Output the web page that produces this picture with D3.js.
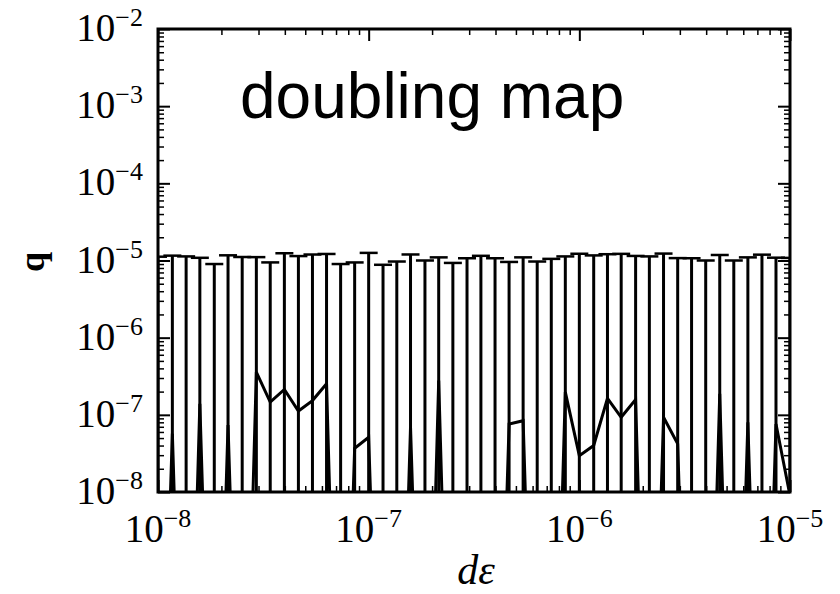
<!DOCTYPE html>
<html>
<head>
<meta charset="utf-8">
<script src="https://cdn.jsdelivr.net/npm/d3@7"></script>
<style>
  body { margin: 0; background: #fff; }
  svg { display: block; }
</style>
</head>
<body>
<div id="chart-container"></div>
<script>
// d-epsilon sample points (log spaced, 15 per decade)
const dEps = [
  1.00e-8, 1.17e-8, 1.36e-8, 1.58e-8, 1.85e-8, 2.15e-8, 2.51e-8, 2.93e-8, 3.41e-8, 3.98e-8,
  4.64e-8, 5.41e-8, 6.31e-8, 7.36e-8, 8.58e-8,
  1.00e-7, 1.17e-7, 1.36e-7, 1.58e-7, 1.85e-7, 2.15e-7, 2.51e-7, 2.93e-7, 3.41e-7, 3.98e-7,
  4.64e-7, 5.41e-7, 6.31e-7, 7.36e-7, 8.58e-7,
  1.00e-6, 1.17e-6, 1.36e-6, 1.58e-6, 1.85e-6, 2.15e-6, 2.51e-6, 2.93e-6, 3.41e-6, 3.98e-6,
  4.64e-6, 5.41e-6, 6.31e-6, 7.36e-6, 8.58e-6,
  1.00e-5
];

// mean q (zero where the estimate is not positive)
const qMean = [
  0, 5.7e-8, 0, 1.39e-7, 0, 7.4e-8, 0, 3.58e-7, 1.46e-7, 2.13e-7,
  1.12e-7, 1.53e-7, 2.53e-7, 0, 3.69e-8, 5.13e-8, 0, 0, 6.9e-8, 0,
  2.79e-7, 0, 0, 0, 0, 7.6e-8, 8.4e-8, 0, 0, 1.97e-7,
  2.96e-8, 4.0e-8, 1.64e-7, 9.3e-8, 1.58e-7, 0, 9.3e-8, 4.2e-8, 0, 0,
  1.87e-7, 0, 8.0e-8, 0, 7.6e-8, 9e-9
];

// spread of q (error bar half-length)
const qStd = [
  1.12e-5, 1.15e-5, 1.13e-5, 1.07e-5, 0.90e-5, 1.16e-5, 1.11e-5, 1.07e-5, 0.93e-5, 1.22e-5,
  1.13e-5, 1.18e-5, 1.19e-5, 0.90e-5, 0.94e-5, 1.25e-5, 0.88e-5, 0.97e-5, 1.19e-5, 1.00e-5,
  1.07e-5, 0.93e-5, 1.07e-5, 1.15e-5, 1.07e-5, 0.95e-5, 1.09e-5, 0.97e-5, 1.05e-5, 1.11e-5,
  1.22e-5, 1.16e-5, 1.19e-5, 1.21e-5, 1.13e-5, 1.13e-5, 1.22e-5, 1.07e-5, 1.07e-5, 1.00e-5,
  1.16e-5, 1.00e-5, 1.09e-5, 1.19e-5, 1.08e-5, 1.08e-5
];

const xTickExp = [-8, -7, -6, -5];
const yTickExp = [-8, -7, -6, -5, -4, -3, -2];

const W = 840, H = 594;
const margin = { top: 29, right: 50, bottom: 102, left: 158 };
const width = W - margin.left - margin.right;
const height = H - margin.top - margin.bottom;

const svg = d3.select("#chart-container").append("svg")
  .attr("width", W).attr("height", H);

const g = svg.append("g").attr("transform", `translate(${margin.left},${margin.top})`);

const x = d3.scaleLog().domain([1e-8, 1e-5]).range([0, width]);
const y = d3.scaleLog().domain([1e-8, 1e-2]).range([height, 0]);

// nonpositive values are clipped to a tiny number, like a log axis does
const floor = 1e-13;
const clipv = v => (v > 0 ? v : floor);

g.append("clipPath").attr("id", "plot-clip")
  .append("rect").attr("width", width).attr("height", height);

const plot = g.append("g").attr("clip-path", "url(#plot-clip)");

const pts = dEps.map((d, i) => ({ x: d, m: qMean[i], s: qStd[i] }));

// error bars
plot.selectAll(".ebar").data(pts).enter().append("line")
  .attr("class", "ebar")
  .attr("x1", d => x(d.x)).attr("x2", d => x(d.x))
  .attr("y1", d => y(d.m + d.s))
  .attr("y2", d => y(clipv(d.m - d.s)))
  .attr("stroke", "#000").attr("stroke-width", 3);

const capHalf = 9;
plot.selectAll(".cap").data(pts).enter().append("line")
  .attr("class", "cap")
  .attr("x1", d => x(d.x) - capHalf).attr("x2", d => x(d.x) + capHalf)
  .attr("y1", d => y(d.m + d.s)).attr("y2", d => y(d.m + d.s))
  .attr("stroke", "#000").attr("stroke-width", 2.5);

// mean line
const line = d3.line().x(d => x(d.x)).y(d => y(clipv(d.m)));
plot.append("path").datum(pts)
  .attr("d", line)
  .attr("fill", "none").attr("stroke", "#000")
  .attr("stroke-width", 3).attr("stroke-linejoin", "miter");

// axes: inward ticks on all four sides
const majorX = xTickExp.map(e => Math.pow(10, e));
const majorY = yTickExp.map(e => Math.pow(10, e));
const minorX = x.ticks().filter(v => !majorX.some(m => Math.abs(m - v) / m < 1e-6));
const minorY = y.ticks().filter(v => !majorY.some(m => Math.abs(m - v) / m < 1e-6));

function styleAxis(sel, w) {
  sel.select(".domain").remove();
  sel.selectAll(".tick line").attr("stroke", "#000").attr("stroke-width", w);
}

const axes = [
  [d3.axisBottom(x), `translate(0,${height})`, majorX, minorX],
  [d3.axisTop(x), null, majorX, minorX],
  [d3.axisLeft(y), null, majorY, minorY],
  [d3.axisRight(y), `translate(${width},0)`, majorY, minorY]
];
axes.forEach(([ax, tr, maj, min]) => {
  const a1 = g.append("g").call(ax.tickValues(min).tickSize(-6).tickFormat(""));
  if (tr) a1.attr("transform", tr);
  styleAxis(a1, 1.5);
  const a2 = g.append("g").call(ax.tickValues(maj).tickSize(-12).tickFormat(""));
  if (tr) a2.attr("transform", tr);
  styleAxis(a2, 2);
});

// frame
g.append("rect").attr("width", width).attr("height", height)
  .attr("fill", "none").attr("stroke", "#000").attr("stroke-width", 3);

// tick labels as 10^n
const serif = "'Liberation Serif', 'DejaVu Serif', serif";
function powLabel(sel, e) {
  sel.append("tspan").text("10");
  sel.append("tspan").attr("dy", -15).attr("font-size", 26).text("\u2212" + (-e));
}

g.selectAll(".ylab").data(yTickExp).enter().append("text")
  .attr("class", "ylab")
  .attr("x", -15).attr("y", e => y(Math.pow(10, e)) + 12)
  .attr("text-anchor", "end")
  .attr("font-family", serif).attr("font-size", 39)
  .each(function (e) { powLabel(d3.select(this), e); });

g.selectAll(".xlab").data(xTickExp).enter().append("text")
  .attr("class", "xlab")
  .attr("x", e => x(Math.pow(10, e))).attr("y", height + 50)
  .attr("text-anchor", "middle")
  .attr("font-family", serif).attr("font-size", 39)
  .each(function (e) { powLabel(d3.select(this), e); });

// axis titles
svg.append("text")
  .attr("x", 476).attr("y", 584)
  .attr("text-anchor", "middle")
  .attr("font-family", serif).attr("font-style", "italic").attr("font-size", 42)
  .text("d\u03b5");

svg.append("text")
  .attr("transform", "translate(44,262) rotate(-90)")
  .attr("text-anchor", "middle")
  .attr("font-family", serif).attr("font-weight", "bold").attr("font-size", 36)
  .text("q");

// annotation
svg.append("text")
  .attr("x", 240).attr("y", 118)
  .attr("font-family", "'Liberation Sans', Arial, sans-serif").attr("font-size", 64)
  .text("doubling map");
</script>
</body>
</html>
